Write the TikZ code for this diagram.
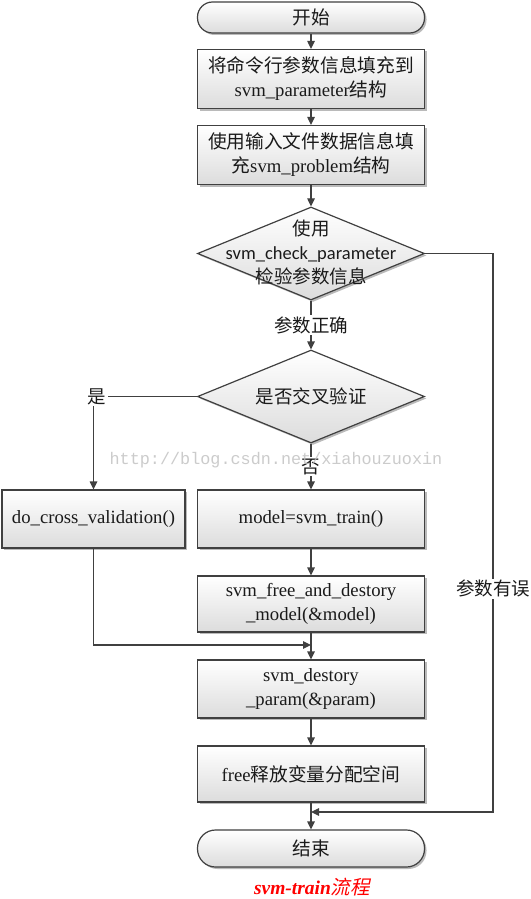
\documentclass[tikz,border=0pt]{standalone}
\usepackage{fontspec}
\setmainfont{Liberation Serif}
\newfontfamily\cjk{Noto Sans CJK SC}
\newfontfamily\cjkslant[FakeSlant=0.22]{Noto Sans CJK SC}
\newfontfamily\calib{Carlito}
\newfontfamily\wmfont{Liberation Mono}
\usetikzlibrary{shapes.geometric,arrows.meta,shadows}
\definecolor{linec}{HTML}{404040}
\definecolor{boxbot}{HTML}{DCDCDC}
\definecolor{txt}{HTML}{1A1A1A}
\tikzset{
  base/.style={draw=linec, line width=1.2pt, top color=white, bottom color=boxbot,
    drop shadow={shadow xshift=2pt, shadow yshift=-2pt, fill=black!45, opacity=.6},
    text=txt, font=\fontsize{18.7}{24}\selectfont, align=center, inner sep=0pt},
  procbox/.style={base, rectangle, minimum width=227pt, minimum height=58pt},
  termbox/.style={base, rectangle, minimum width=227pt},
  decision/.style={base, diamond, minimum width=227pt, minimum height=93pt},
  dtext/.style={text=txt, font=\fontsize{18.5}{24}\selectfont, align=center, inner sep=0pt},
  flow/.style={draw=linec, line width=1.2pt, -{Triangle[length=8pt,width=7.5pt]}},
  lbl/.style={fill=white, inner sep=1.5pt, text=txt, font=\fontsize{18.5}{24}\selectfont\cjk}
}
\begin{document}
\begin{tikzpicture}[x=1pt,y=-1pt]
\fill[white] (0,0) rectangle (530,899);
\useasboundingbox (0,0) rectangle (530,899);

\node[termbox, minimum height=31pt, rounded corners=15pt] (start) at (311,17.5) {\cjk 开始};
\node[procbox, minimum height=59pt] (b1) at (311,79) {{\cjk 将命令行参数信息填充到}\\svm\_parameter{\cjk 结构}};
\node[procbox, minimum height=59pt] (b2) at (311,155) {{\cjk 使用输入文件数据信息填}\\{\cjk 充}svm\_problem{\cjk 结构}};
\node[decision] (d1) at (311,253.5) {};
\node[dtext] (d1t) at (311,252) {{\cjk 使用}\\{\calib svm\_check\_parameter}\\{\cjk 检验参数信息}};
\node[decision] (d2) at (311,396.5) {};
\node[dtext] (d2t) at (311,396) {\cjk 是否交叉验证};
\node[procbox, minimum width=183pt] (dcv) at (93.5,519) {do\_cross\_validation()};
\node[procbox] (model) at (311,519) {model=svm\_train()};
\node[procbox, minimum height=56pt] (sfree) at (311,604) {svm\_free\_and\_destory\\\_model(\&model)};
\node[procbox] (dparam) at (311,689) {svm\_destory\\\_param(\&param)};
\node[procbox, minimum height=56pt] (freeb) at (311,774) {free{\cjk 释放变量分配空间}};
\node[termbox, minimum height=37pt, rounded corners=18pt] (endt) at (311,848.5) {\cjk 结束};

\coordinate (c1) at (493,253.5);
\coordinate (c2) at (493,812);
\coordinate (m2) at (311,812);
\coordinate (c3) at (93.5,396.5);
\coordinate (c4) at (93.5,645);
\coordinate (m1) at (311,645);

\draw[flow] (start) -- (b1);
\draw[flow] (b1) -- (b2);
\draw[flow] (b2) -- (d1);
\draw[flow] (d1) -- node[lbl] (ok) {参数正确} (d2);
\draw[flow] (d2) -- node[lbl] (no) {否} (model);
\draw[flow] (d2.west) -- (c3) -- (dcv);
\node[lbl] (yes) at (97,396.5) {是};
\draw[flow] (d1.east) -- (c1) -- node[lbl, pos=0.6] (err) {参数有误} (c2) -- (m2);
\draw[flow] (model) -- (sfree);
\draw[flow] (dcv) -- (c4) -- (m1);
\draw[flow] (sfree) -- (dparam);
\draw[flow] (dparam) -- (freeb);
\draw[flow] (freeb) -- (endt);

\node[text=black!25, font=\fontsize{16.8}{20}\wmfont, opacity=.8] (wm) at (276,460) {http://blog.csdn.net/xiahouzuoxin};

\node[text=red, inner sep=0pt] (cap) at (312,887) {{\fontsize{19.5}{24}\selectfont\bfseries\itshape svm-train}{\fontsize{19.5}{24}\selectfont\cjkslant 流程}};
\end{tikzpicture}
\end{document}
